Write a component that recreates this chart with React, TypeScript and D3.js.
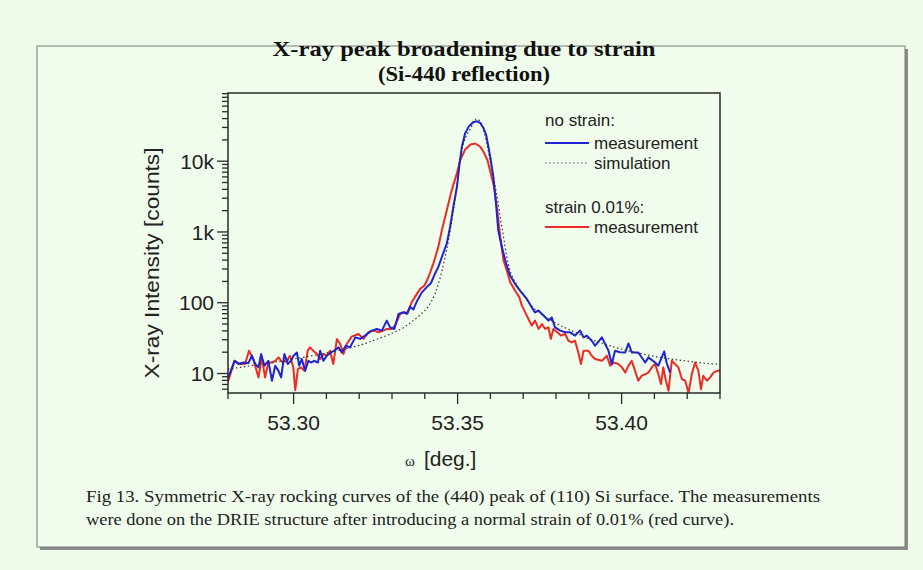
import React, { Component } from "react";
import * as d3 from "d3";

// omega [deg] and intensity [counts]
const blueOmega = [
	53.2801, 53.282, 53.2832, 53.2847, 53.2862, 53.2873, 53.2883, 53.2893, 53.2901, 53.2911,
	53.2923, 53.2934, 53.2944, 53.2954, 53.2962, 53.2972, 53.2982, 53.2992, 53.3, 53.301,
	53.3017, 53.3025, 53.3035, 53.3045, 53.3053, 53.3063, 53.3074, 53.3081, 53.3091, 53.3101,
	53.3114, 53.3124, 53.3137, 53.3147, 53.3159, 53.3172, 53.3188, 53.3203, 53.3218, 53.3238,
	53.3254, 53.3269, 53.3284, 53.3294, 53.3307, 53.332, 53.3335, 53.3345, 53.3355, 53.3365,
	53.3376, 53.3391, 53.3406, 53.3419, 53.3431, 53.3441, 53.3452, 53.3467, 53.3477, 53.3487,
	53.3498, 53.3506, 53.3513, 53.3523, 53.3534, 53.3547, 53.3559, 53.3569, 53.3579, 53.3587,
	53.3594, 53.3601, 53.3609, 53.3617, 53.3624, 53.3635, 53.3648, 53.366, 53.3675, 53.3692,
	53.3711, 53.3726, 53.3736, 53.3746, 53.3762, 53.3777, 53.3787, 53.3797, 53.3813, 53.3828,
	53.3843, 53.3858, 53.3873, 53.3884, 53.3894, 53.3909, 53.3919, 53.394, 53.396, 53.397,
	53.398, 53.3995, 53.4011, 53.4021, 53.4031, 53.4051, 53.4072, 53.4082, 53.4102, 53.4112,
	53.413, 53.4137, 53.4148,
];
const blueCounts = [
	8.8, 15.1, 13.6, 14.3, 14.0, 17.8, 13.6, 12.2, 18.9, 12.9,
	15.1, 7.9, 12.9, 10.9, 8.8, 18.9, 13.6, 15.1, 17.8, 19.8,
	12.9, 16, 10.9, 15.1, 14.3, 15.1, 14.3, 21, 15.1, 17.8,
	19.8, 21, 23.4, 19.8, 24.7, 23.4, 32.4, 30.8, 34.3, 40.4,
	42.6, 40.4, 55.9, 44.9, 42.6, 69.6, 73.4, 69.6, 88, 80,
	105, 140, 166, 190, 257, 319, 443, 683, 1178, 2260,
	4350, 9300, 16000, 24900, 30800, 35500, 36600, 34700, 29300, 23500,
	16000, 10400, 6000, 2530, 1060, 611, 357, 243, 185, 145,
	113, 86, 73, 77.6, 65.9, 55.9, 62, 44.9, 40.4, 38.2,
	38.2, 34.3, 40.4, 32.4, 34.3, 29, 24.7, 32.4, 21, 13.6,
	21, 20, 19.8, 26.6, 19.8, 19.8, 14.3, 16.9, 14.3, 12.9,
	20.5, 14.3, 10.3,
];

const redOmega = [
	53.2801, 53.282, 53.2837, 53.2852, 53.2864, 53.2877, 53.2893, 53.2903, 53.2913, 53.2923,
	53.2934, 53.2944, 53.2954, 53.2966, 53.2979, 53.2989, 53.2999, 53.3005, 53.3013, 53.3023,
	53.3033, 53.3043, 53.305, 53.306, 53.3071, 53.3081, 53.3091, 53.3101, 53.3111, 53.3121,
	53.3132, 53.3142, 53.3152, 53.3162, 53.3177, 53.3198, 53.3213, 53.3228, 53.3244, 53.3259,
	53.3274, 53.3284, 53.3299, 53.3309, 53.3325, 53.3338, 53.3348, 53.336, 53.3373, 53.3386,
	53.3399, 53.3411, 53.3426, 53.3441, 53.3452, 53.3467, 53.3482, 53.3498, 53.3508, 53.3523,
	53.3539, 53.3554, 53.3569, 53.3579, 53.3591, 53.3601, 53.3611, 53.3621, 53.363, 53.364,
	53.365, 53.366, 53.3675, 53.3688, 53.3696, 53.3706, 53.3716, 53.3726, 53.3736, 53.3747,
	53.3757, 53.3767, 53.3777, 53.3784, 53.3792, 53.3804, 53.3815, 53.3828, 53.3838, 53.3848,
	53.3858, 53.3868, 53.3876, 53.3884, 53.3899, 53.3909, 53.3919, 53.394, 53.3955, 53.3965,
	53.3975, 53.399, 53.4001, 53.4011, 53.4021, 53.4031, 53.4041, 53.4051, 53.4061, 53.4072,
	53.4082, 53.4092, 53.4102, 53.4112, 53.412, 53.4127, 53.4135, 53.4143, 53.4153, 53.4163,
	53.4173, 53.4184, 53.4194, 53.4204, 53.4214, 53.4224, 53.4234, 53.4242, 53.4249, 53.426,
	53.427, 53.428, 53.4291, 53.4301,
];
const redCounts = [
	7.9, 15.1, 13.6, 13.6, 21, 16, 8.8, 16.9, 8.8, 14.3,
	14.3, 15.1, 16.9, 14.3, 15.1, 17.8, 12.2, 5.8, 11.5, 12.2,
	10.9, 21, 23.4, 21, 18.9, 16, 18.9, 17.8, 21, 13.6,
	30.8, 26.1, 18.9, 26.1, 33.2, 36.2, 30.8, 38.2, 40.4, 38.2,
	40.4, 42.6, 42.6, 47.5, 69.6, 73.4, 71, 101.7, 127, 157,
	175, 229, 357, 611, 1060, 2020, 3880, 6780, 10400, 14600,
	17200, 17800, 16000, 13600, 10400, 6780, 4350, 2020, 850, 396,
	286, 196, 149, 120, 91, 73, 59, 47.5, 56, 42.6,
	50, 42.6, 44.9, 30.8, 42.6, 38.2, 34.3, 36.2, 29, 27.5,
	29, 19.8, 13.6, 21, 21, 17.8, 16, 15.1, 17.8, 12.9,
	14.3, 13.6, 12.2, 10.3, 12.9, 15.1, 10.9, 7.9, 9.3, 9.8,
	10.3, 12.2, 13.6, 9.8, 7.1, 12.2, 7.9, 5.7, 15.1, 13.6,
	12.2, 8.3, 7.9, 5.3, 9.8, 14.3, 10.9, 6, 9.3, 7.9,
	8.8, 10.3, 10.9, 10.9,
];

const simOmega = [
	53.28, 53.29, 53.3, 53.31, 53.32, 53.325, 53.33, 53.334, 53.3365, 53.339,
	53.341, 53.343, 53.3445, 53.346, 53.3472, 53.3482, 53.3495, 53.351, 53.3525, 53.354,
	53.3557, 53.357, 53.3582, 53.3595, 53.3605, 53.3617, 53.363, 53.364, 53.365, 53.366,
	53.368, 53.37, 53.3726, 53.375, 53.378, 53.382, 53.386, 53.39, 53.395, 53.4,
	53.405, 53.41, 53.415, 53.42, 53.425, 53.43,
];
const simCounts = [
	11.5, 13.5, 16, 19.5, 25, 30, 37, 46, 56, 70,
	88, 130, 210, 400, 750, 1400, 3500, 12300, 22000, 29300,
	39500, 36000, 24900, 13000, 7500, 3880, 1630, 850, 443, 286,
	180, 130, 90, 72, 58, 46, 38, 31, 26, 22,
	19.5, 17.5, 16, 15, 14, 13.5,
];

const xTicks = [53.3, 53.35, 53.4];
const xTickLabels = ["53.30", "53.35", "53.40"];
const yTicks = [10, 100, 1000, 10000];
const yTickLabels = ["10", "100", "1k", "10k"];

const titleLines = ["X-ray peak broadening due to strain", "(Si-440 reflection)"];
const captionLines = [
	"Fig 13. Symmetric X-ray rocking curves of the (440) peak of (110) Si surface. The measurements",
	"were done on the DRIE structure after introducing a normal strain of 0.01% (red curve).",
];

const toPoints = (xs: number[], ys: number[]) => xs.map((v, i) => [v, ys[i]] as [number, number]);

class App extends Component {
	node: HTMLDivElement | null = null;

	createChart() {
		const node = this.node;
		if (!node) return;
		while (node.firstChild) node.removeChild(node.firstChild);

		const W = 923;
		const H = 570;
		const plot = { left: 228, top: 93, right: 720, bottom: 393 };
		const sans = "'Liberation Sans', Arial, sans-serif";
		const serif = "'Liberation Serif', 'Times New Roman', serif";

		const svg = d3
			.select(node)
			.append("svg")
			.attr("width", W)
			.attr("height", H)
			.style("position", "absolute")
			.style("left", "0px")
			.style("top", "0px");

		svg.append("rect").attr("width", W).attr("height", H).attr("fill", "#eefbe9");

		// panel with shadow
		svg.append("rect").attr("x", 40).attr("y", 49).attr("width", 868).attr("height", 501).attr("fill", "#8c8c8c");
		svg
			.append("rect")
			.attr("x", 37)
			.attr("y", 46)
			.attr("width", 868)
			.attr("height", 501)
			.attr("fill", "#f0fcec")
			.attr("stroke", "#7a7a7a")
			.attr("stroke-width", 1);

		// title
		svg
			.selectAll(".title")
			.data(titleLines)
			.enter()
			.append("text")
			.attr("x", 464)
			.attr("y", (d, i) => 56 + i * 25)
			.attr("text-anchor", "middle")
			.attr("font-family", serif)
			.attr("font-weight", "bold")
			.attr("font-size", 22)
			.attr("textLength", (d, i) => (i === 0 ? 383 : 172))
			.attr("lengthAdjust", "spacingAndGlyphs")
			.attr("fill", "#111")
			.text(d => d);

		const x = d3.scaleLinear().domain([53.28, 53.43]).range([plot.left, plot.right]);
		const y = d3.scaleLog().domain([5.3, 92000]).range([plot.bottom, plot.top]);

		svg
			.append("clipPath")
			.attr("id", "plotClip")
			.append("rect")
			.attr("x", plot.left)
			.attr("y", plot.top)
			.attr("width", plot.right - plot.left)
			.attr("height", plot.bottom - plot.top);

		const line = d3
			.line<[number, number]>()
			.x(d => x(d[0]))
			.y(d => y(d[1]));

		const curves = svg.append("g").attr("clip-path", "url(#plotClip)");
		curves
			.append("path")
			.attr("d", line(toPoints(redOmega, redCounts)))
			.attr("fill", "none")
			.attr("stroke", "#ec2b24")
			.attr("stroke-width", 2)
			.attr("stroke-linejoin", "round");
		curves
			.append("path")
			.attr("d", line(toPoints(blueOmega, blueCounts)))
			.attr("fill", "none")
			.attr("stroke", "#1f22d6")
			.attr("stroke-width", 2)
			.attr("stroke-linejoin", "round");
		curves
			.append("path")
			.attr("d", d3.line<[number, number]>().x(d => x(d[0])).y(d => y(d[1])).curve(d3.curveMonotoneX)(toPoints(simOmega, simCounts)))
			.attr("fill", "none")
			.attr("stroke", "#333")
			.attr("stroke-width", 1.2)
			.attr("stroke-dasharray", "1.5 2.5");

		// frame
		svg
			.append("rect")
			.attr("x", plot.left)
			.attr("y", plot.top)
			.attr("width", plot.right - plot.left)
			.attr("height", plot.bottom - plot.top)
			.attr("fill", "none")
			.attr("stroke", "#2a2a2a")
			.attr("stroke-width", 1.5);

		// x ticks, 0.01 minor / 0.05 major
		const xMinor = x.ticks(15);
		svg
			.append("g")
			.selectAll("line")
			.data(xMinor)
			.enter()
			.append("line")
			.attr("x1", d => x(d))
			.attr("x2", d => x(d))
			.attr("y1", plot.bottom)
			.attr("y2", d => (Math.abs(d * 20 - Math.round(d * 20)) < 1e-6 ? plot.bottom + 11 : plot.bottom + 6))
			.attr("stroke", "#2a2a2a")
			.attr("stroke-width", 1.3);
		svg
			.append("g")
			.selectAll("text")
			.data(xTicks)
			.enter()
			.append("text")
			.attr("x", d => x(d))
			.attr("y", 430)
			.attr("text-anchor", "middle")
			.attr("font-family", sans)
			.attr("font-size", 21)
			.attr("fill", "#222")
			.text((d, i) => xTickLabels[i]);

		// y ticks, log minors
		const yMinor: number[] = [];
		[1, 10, 100, 1000, 10000].forEach(dec => {
			for (let k = 1; k <= 9; k++) {
				const v = dec * k;
				if (v >= 5.3 && v <= 92000) yMinor.push(v);
			}
		});
		svg
			.append("g")
			.selectAll("line")
			.data(yMinor)
			.enter()
			.append("line")
			.attr("x1", plot.left)
			.attr("x2", d => (yTicks.includes(d) ? plot.left - 11 : plot.left - 6))
			.attr("y1", d => y(d))
			.attr("y2", d => y(d))
			.attr("stroke", "#2a2a2a")
			.attr("stroke-width", 1.3);
		svg
			.append("g")
			.selectAll("text")
			.data(yTicks)
			.enter()
			.append("text")
			.attr("x", 214)
			.attr("y", d => y(d))
			.attr("dy", "0.36em")
			.attr("text-anchor", "end")
			.attr("font-family", sans)
			.attr("font-size", 21)
			.attr("fill", "#222")
			.text((d, i) => yTickLabels[i]);

		// axis titles
		svg
			.append("text")
			.attr("transform", "translate(159,263) rotate(-90)")
			.attr("text-anchor", "middle")
			.attr("font-family", sans)
			.attr("font-size", 21)
			.attr("textLength", 231)
			.attr("lengthAdjust", "spacingAndGlyphs")
			.attr("fill", "#222")
			.text("X-ray Intensity [counts]");
		const xTitle = svg.append("text").attr("x", 405).attr("y", 466).attr("fill", "#222");
		xTitle.append("tspan").attr("font-family", serif).attr("font-size", 15).text("ω");
		xTitle.append("tspan").attr("dx", 9).attr("font-family", sans).attr("font-size", 21).text("[deg.]");

		// legend
		const legend = svg.append("g").attr("font-family", sans).attr("font-size", 17).attr("fill", "#222");
		legend.append("text").attr("x", 545).attr("y", 126).text("no strain:");
		legend.append("line").attr("x1", 545).attr("x2", 589).attr("y1", 143).attr("y2", 143).attr("stroke", "#1f22d6").attr("stroke-width", 2);
		legend.append("text").attr("x", 594).attr("y", 149).text("measurement");
		legend
			.append("line")
			.attr("x1", 545)
			.attr("x2", 589)
			.attr("y1", 163)
			.attr("y2", 163)
			.attr("stroke", "#555")
			.attr("stroke-width", 1.2)
			.attr("stroke-dasharray", "1.5 2.5");
		legend.append("text").attr("x", 594).attr("y", 169).text("simulation");
		legend.append("text").attr("x", 545).attr("y", 213).text("strain 0.01%:");
		legend.append("line").attr("x1", 545).attr("x2", 589).attr("y1", 227).attr("y2", 227).attr("stroke", "#ec2b24").attr("stroke-width", 2);
		legend.append("text").attr("x", 594).attr("y", 233).text("measurement");

		// caption
		svg
			.selectAll(".caption")
			.data(captionLines)
			.enter()
			.append("text")
			.attr("x", 86)
			.attr("y", (d, i) => 502 + i * 23)
			.attr("font-family", serif)
			.attr("font-size", 16)
			.attr("textLength", (d, i) => (i === 0 ? 734 : 648))
			.attr("lengthAdjust", "spacingAndGlyphs")
			.attr("fill", "#222")
			.text(d => d);
	}
	componentDidMount() {
		this.createChart();
	}
	componentDidUpdate() {
		this.createChart();
	}
	render() {
		return <div ref={node => { this.node = node; }}></div>;
	}
}

export default App;
